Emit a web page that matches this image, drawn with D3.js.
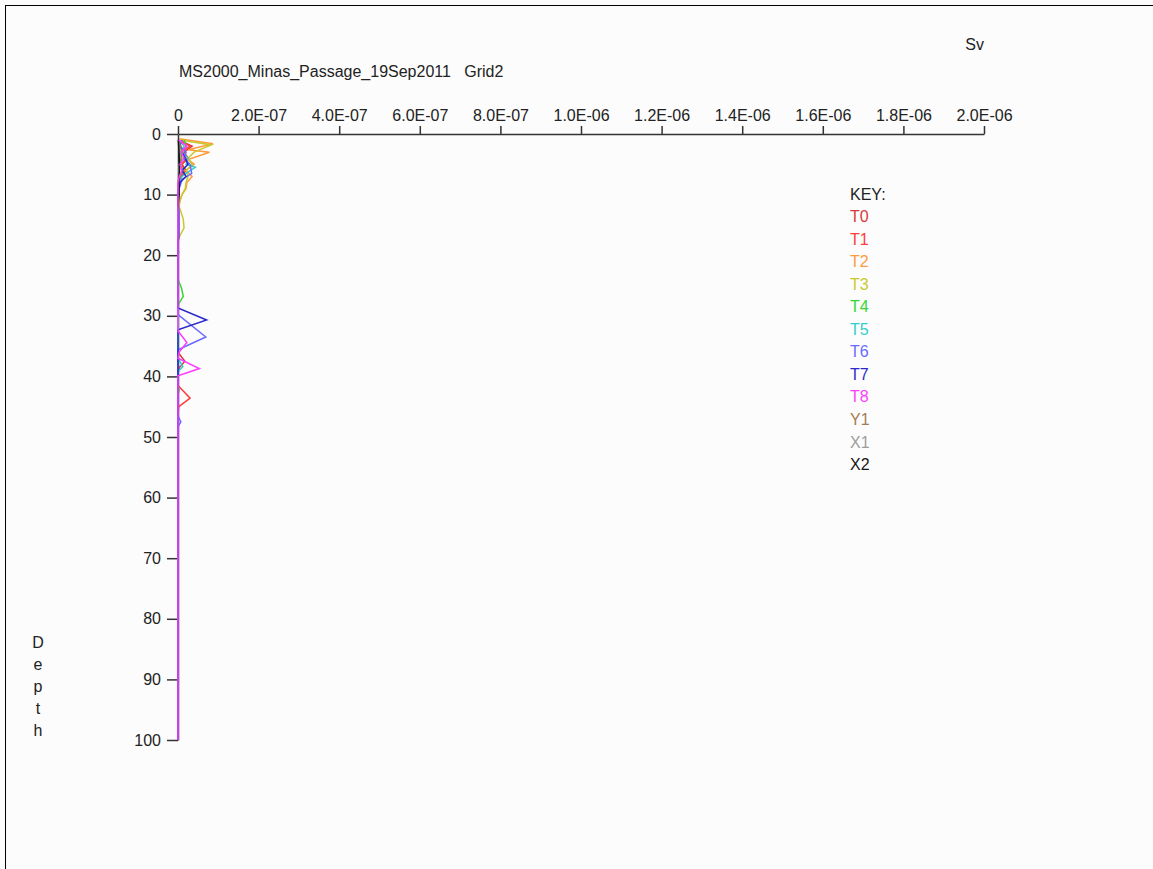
<!DOCTYPE html>
<html>
<head>
<meta charset="utf-8">
<script src="https://cdn.jsdelivr.net/npm/d3@7"></script>
<style>
  html, body { margin: 0; padding: 0; background: #fcfcfc; overflow: hidden; }
  svg { display: block; }
  text { font-family: "Liberation Sans", Arial, sans-serif; font-size: 16px; fill: #222; }
</style>
</head>
<body>
<svg id="chart" width="1153" height="869"></svg>
<script>
// Sv (volume backscattering) profiles by depth for each transect
const seriesNames = ["T0", "T1", "T2", "T3", "T4", "T5", "T6", "T7", "T8", "Y1", "X1", "X2"];
const seriesColors = ["#d63a3a", "#ff3b3b", "#ff9a3c", "#c9c92e", "#33d633", "#33cccc",
                      "#6a6aff", "#2a2acc", "#ff3cff", "#a47c54", "#9c9c9c", "#151515"];

// [depth (m), Sv] pairs per series
const T0 = [[1,0.3e-8],[2,3.5e-8],[3,1.5e-8],[4,2.5e-8],[5,1.0e-8],[6,2.0e-8],[7,0.8e-8],[8,0.5e-8],[9,0.2e-8],[10,0],[36,0],[37.5,1.7e-8],[38.5,0.4e-8],[39.5,0],[100,0]];
const T1 = [[1,0.5e-8],[2,3.0e-8],[3,0.8e-8],[4,2.0e-8],[5,1.0e-8],[6,1.5e-8],[7,0.5e-8],[8,0.3e-8],[9,0],[41.5,0],[43.6,3.0e-8],[45,0.2e-8],[46,0],[100,0]];
const T2 = [[0.8,0.3e-8],[1.6,8.7e-8],[2.6,2.5e-8],[3.0,7.8e-8],[4.2,2.5e-8],[5,4.0e-8],[6,2.0e-8],[7,3.5e-8],[8,2.2e-8],[9,2.0e-8],[10,1.0e-8],[11,0.5e-8],[12,0],[100,0]];
const T3 = [[1,0.5e-8],[1.8,8.3e-8],[3,4.0e-8],[4,2.5e-8],[5,3.5e-8],[6,2.0e-8],[7,2.5e-8],[8,2.0e-8],[9,1.8e-8],[10,1.0e-8],[11,0.5e-8],[12,0.3e-8],[14,1.3e-8],[15.5,1.5e-8],[17,0.3e-8],[18,0],[100,0]];
const T4 = [[1,1.5e-8],[2,2.0e-8],[3,0.5e-8],[4,1.0e-8],[5,0.6e-8],[6,1.2e-8],[7,0.4e-8],[8,0],[19,0],[19.5,0.2e-8],[20,0],[24,0],[25.5,0.9e-8],[26.8,1.3e-8],[28,0.2e-8],[29,0],[41.5,0],[42.2,0.3e-8],[43,0],[100,0]];
const T5 = [[1,0.3e-8],[2,1.5e-8],[3,1.0e-8],[4,2.5e-8],[5,2.0e-8],[5.5,4.3e-8],[6.5,2.0e-8],[7,1.0e-8],[8,0.5e-8],[9,0],[37,0],[38.4,1.2e-8],[39.2,0],[100,0]];
const T6 = [[1,1.0e-8],[2,0.5e-8],[3,2.0e-8],[4,1.5e-8],[5,3.0e-8],[6.5,3.4e-8],[7.5,1.0e-8],[9,0.3e-8],[10,0],[29.8,0],[33.5,6.9e-8],[35.6,0],[46.5,0],[47.5,0.7e-8],[48.3,0],[100,0]];
const T7 = [[1,0.3e-8],[3,1.0e-8],[5,2.5e-8],[6,1.0e-8],[7,2.0e-8],[8,0.5e-8],[9,0.2e-8],[10,0],[13,0.2e-8],[17,0.2e-8],[18,0],[28.7,0],[30.7,7.1e-8],[32.3,0],[100,0]];
const T8 = [[1,0.2e-8],[2,2.2e-8],[3,0.8e-8],[4,1.5e-8],[5,0.5e-8],[6,1.0e-8],[7,0.3e-8],[8,0],[32.5,0],[34.4,2.2e-8],[36,0.3e-8],[37,0],[38.7,5.3e-8],[39.9,0],[100,0]];
const Y1 = [[1,0.2e-8],[3,1.0e-8],[5,0.5e-8],[7,0.3e-8],[9,0]];
const X1 = [[1,0.1e-8],[4,0.5e-8],[6,0.2e-8],[8,0]];
const X2 = [[1,0.1e-8],[5,0.4e-8],[8,0.2e-8],[10,0.3e-8],[12,0]];
const seriesData = [T0, T1, T2, T3, T4, T5, T6, T7, Y1, X1, X2, T8];
const seriesDrawColors = [0, 1, 2, 3, 4, 5, 6, 7, 9, 10, 11, 8].map(i => seriesColors[i]);

const xTickValues = [0, 2e-7, 4e-7, 6e-7, 8e-7, 1e-6, 1.2e-6, 1.4e-6, 1.6e-6, 1.8e-6, 2e-6];
const xTickLabels = ["0", "2.0E-07", "4.0E-07", "6.0E-07", "8.0E-07", "1.0E-06",
                     "1.2E-06", "1.4E-06", "1.6E-06", "1.8E-06", "2.0E-06"];
const yTickValues = [0, 10, 20, 30, 40, 50, 60, 70, 80, 90, 100];

const titleText = "MS2000_Minas_Passage_19Sep2011   Grid2";
const xAxisTitle = "Sv";
const yAxisTitle = "Depth";

const svg = d3.select("#chart");

// outer frame
svg.append("rect")
  .attr("x", 5.5).attr("y", 5.5)
  .attr("width", 1300).attr("height", 1000)
  .attr("fill", "none").attr("stroke", "#000").attr("stroke-width", 1);

const x = d3.scaleLinear().domain([0, 2e-6]).range([178, 984]);
const y = d3.scaleLinear().domain([0, 100]).range([134, 740]);

// axes
const xAxis = d3.axisTop(x)
  .tickValues(xTickValues)
  .tickFormat((d, i) => xTickLabels[i])
  .tickSize(8).tickSizeOuter(0).tickPadding(5);
const gx = svg.append("g").attr("transform", "translate(0,134)").call(xAxis);

const yAxis = d3.axisLeft(y)
  .tickValues(yTickValues)
  .tickFormat(d3.format("d"))
  .tickSize(11).tickSizeOuter(0).tickPadding(6);
const gy = svg.append("g").attr("transform", "translate(178,0)").call(yAxis);

[gx, gy].forEach(g => {
  g.select(".domain").attr("stroke", "#333").attr("stroke-width", 1.5);
  g.selectAll(".tick line").attr("stroke", "#333").attr("stroke-width", 1.5);
  g.selectAll(".tick text")
    .style("font-family", "'Liberation Sans', Arial, sans-serif")
    .style("font-size", "16px").attr("fill", "#222");
});

// profile lines, drawn over the depth axis (T8 last, on top)
const line = d3.line().x(d => x(d[1])).y(d => y(d[0]));
svg.append("g").selectAll("path")
  .data(seriesData)
  .join("path")
  .attr("d", d => line(d))
  .attr("fill", "none")
  .attr("stroke", (d, i) => seriesDrawColors[i])
  .attr("stroke-width", 1.5);

// titles
svg.append("text").attr("x", 179).attr("y", 77)
  .attr("xml:space", "preserve").style("white-space", "pre")
  .text(titleText);
svg.append("text").attr("x", 984).attr("y", 50).attr("text-anchor", "end").text(xAxisTitle);

svg.append("g").selectAll("text")
  .data(yAxisTitle.split(""))
  .join("text")
  .attr("x", 38).attr("y", (d, i) => 648 + i * 22)
  .attr("text-anchor", "middle")
  .text(d => d);

// key
const key = svg.append("g").attr("transform", "translate(850,0)");
key.append("text").attr("x", 0).attr("y", 200).text("KEY:");
key.selectAll("text.entry")
  .data(seriesNames)
  .join("text")
  .attr("class", "entry")
  .attr("x", 0).attr("y", (d, i) => 222 + i * 22.55)
  .style("fill", (d, i) => seriesColors[i])
  .text(d => d);
</script>
</body>
</html>
